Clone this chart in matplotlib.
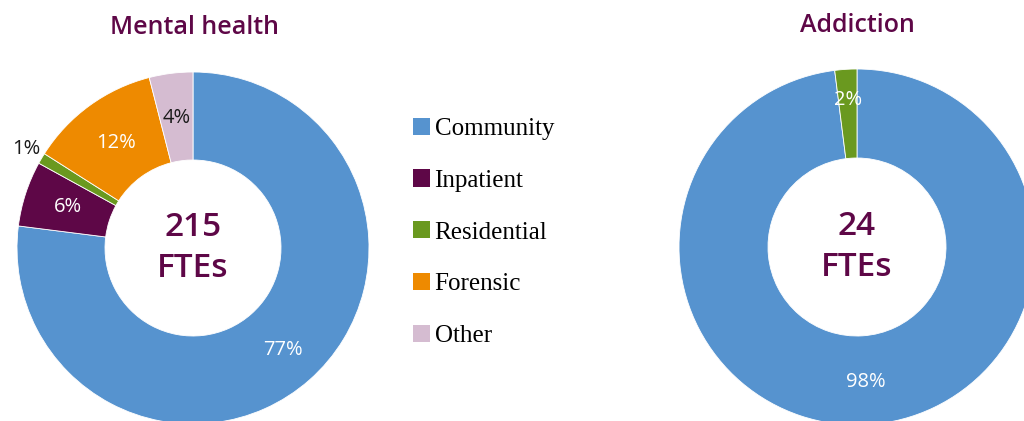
import matplotlib
matplotlib.use("Agg")
import matplotlib.pyplot as plt
from matplotlib.patches import Patch
import numpy as np

categories = ["Community", "Inpatient", "Residential", "Forensic", "Other"]
colors = ["#5693CF", "#5E0747", "#6A991F", "#EE8A00", "#D5BCD1"]

mh_title = "Mental health"
mh_total = "215\nFTEs"
mh_pct = [77, 6, 1, 12, 4]

ad_title = "Addiction"
ad_total = "24\nFTEs"
ad_categories = ["Community", "Residential"]
ad_pct = [98, 2]

PURPLE = "#5E0747"
W, H = 1024, 421

fig = plt.figure(figsize=(W / 100, H / 100), dpi=100)
ax = fig.add_axes([0, 0, 1, 1])

sans = ["Open Sans", "DejaVu Sans"]


def donut(values, cols, center, radius, label_style):
    wedges, _ = ax.pie(values, colors=cols, startangle=90, counterclock=False,
                       center=center, radius=radius,
                       wedgeprops=dict(width=radius * 0.5, edgecolor="white",
                                       linewidth=0.6))
    for w, v, (dist, color) in zip(wedges, values, label_style):
        ang = np.deg2rad((w.theta1 + w.theta2) / 2)
        x = center[0] + dist * radius * np.cos(ang)
        y = center[1] + dist * radius * np.sin(ang)
        ax.text(x, y, f"{v}%", ha="center", va="center", color=color,
                fontsize=14.5, family=sans)


# Mental health donut
donut(mh_pct, colors, (193, 173), 176,
      [(0.77, "white"), (0.75, "white"), (1.1, "#1a1a1a"),
       (0.74, "white"), (0.745, "#1a1a1a")])
ax.text(193, 173, mh_total, ha="center", va="center", color=PURPLE,
        fontsize=24, family=sans, fontweight="semibold", linespacing=1.3)
ax.text(195, 394, mh_title, ha="center", va="center", color=PURPLE,
        fontsize=18, family=sans, fontweight="semibold")

# Addiction donut
ad_colors = [colors[categories.index(c)] for c in ad_categories]
donut(ad_pct, ad_colors, (857, 174), 178,
      [(0.76, "white"), (0.83, "white")])
ax.text(857, 174, ad_total, ha="center", va="center", color=PURPLE,
        fontsize=24, family=sans, fontweight="semibold", linespacing=1.3)
ax.text(857, 396, ad_title, ha="center", va="center", color=PURPLE,
        fontsize=18, family=sans, fontweight="semibold")

handles = [Patch(facecolor=c, edgecolor="none") for c in colors]
leg = ax.legend(handles, categories, loc="upper left",
                bbox_to_anchor=(400 / W, 316 / H), frameon=False,
                prop=dict(family=["Liberation Serif"], size=18),
                handlelength=0.68, handleheight=0.68, handletextpad=0.2,
                labelspacing=1.18, borderpad=0)

ax.set_xlim(0, W)
ax.set_ylim(0, H)
ax.set_aspect("equal")
ax.axis("off")

fig.savefig("out.png", dpi=100, facecolor="white")
